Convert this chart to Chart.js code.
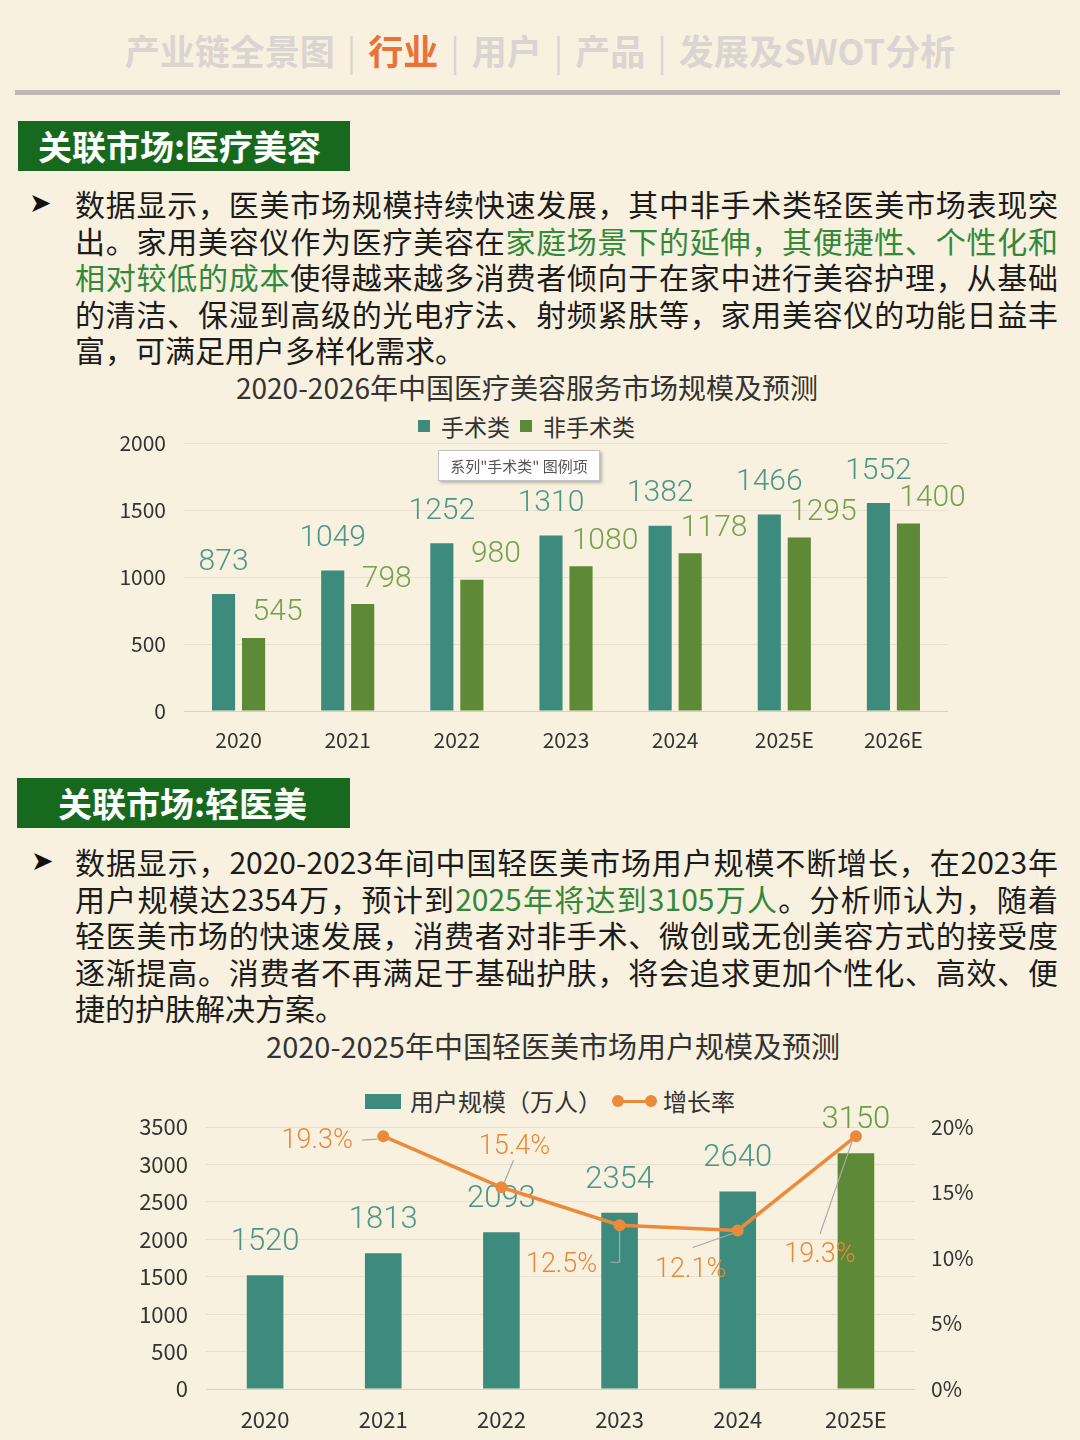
<!DOCTYPE html>
<html>
<head>
<meta charset="utf-8">
<script src="https://cdn.jsdelivr.net/npm/chart.js@4"></script>
<style>
body { margin: 0; background: #f8f1df; }
#page { position: relative; width: 1080px; height: 1440px; overflow: hidden; background: #f8f1df;
  font-family: "Noto Sans CJK SC", sans-serif; color: #1c1c1c; }
.abs { position: absolute; }
#nav { left: 0; top: 26px; width: 1080px; display: flex; justify-content: center; gap: 12px;
  font-size: 35px; font-weight: bold; color: #dcd4d0; line-height: 48px; white-space: nowrap; }
#nav .on { color: #ea7239; }
#nav i { font-style: normal; font-weight: normal; }
#rule { left: 15px; top: 90px; width: 1045px; height: 5px; background: #bcb8b2; }
.head { height: 50px; background: #17691d; color: #fff; font-size: 34px; font-weight: bold; line-height: 50px; white-space: nowrap; }
.arrow { font-family: "DejaVu Sans", sans-serif; font-size: 27px; color: #111; line-height: 36px; }
.para { left: 75px; width: 983px; font-size: 30px; line-height: 36.5px; }
.para div { white-space: nowrap; }
.para .j { text-align: justify; text-align-last: justify; }
.para g { color: #33883a; }
.ctitle { left: 0; font-size: 28px; color: #333; line-height: 36px; text-align: center; white-space: nowrap; }
.leg { font-size: 23px; color: #333; line-height: 28px; white-space: nowrap; }
.sq { width: 12px; height: 12px; }
#tip { left: 438px; top: 450px; width: 160px; height: 29px; background: #fff; border: 1px solid #c4c4c4;
  box-shadow: 2px 2px 3px rgba(0,0,0,0.25); font-size: 15px; color: #555; line-height: 29px; text-align: center; }
canvas { position: absolute; }
</style>
</head>
<body>
<div id="page">
  <div id="nav" class="abs"><span>产业链全景图</span><i>|</i><span class="on">行业</span><i>|</i><span>用户</span><i>|</i><span>产品</span><i>|</i><span>发展及SWOT分析</span></div>
  <div id="rule" class="abs"></div>

  <div class="abs head" style="left:18px;top:121px;width:312px;padding-left:20px;">关联市场:医疗美容</div>
  <div class="abs arrow" style="left:29px;top:185px;">➤</div>
  <div class="abs para" style="top:185px;">
    <div class="j">数据显示，医美市场规模持续快速发展，其中非手术类轻医美市场表现突</div>
    <div class="j">出。家用美容仪作为医疗美容在<g>家庭场景下的延伸，其便捷性、个性化和</g></div>
    <div class="j"><g>相对较低的成本</g>使得越来越多消费者倾向于在家中进行美容护理，从基础</div>
    <div class="j">的清洁、保湿到高级的光电疗法、射频紧肤等，家用美容仪的功能日益丰</div>
    <div>富，可满足用户多样化需求。</div>
  </div>

  <div class="abs ctitle" style="top:369px;width:1054px;">2020-2026年中国医疗美容服务市场规模及预测</div>
  <div class="abs sq" style="left:418px;top:420px;background:#3d8b7d;"></div>
  <div class="abs leg" style="left:441px;top:412px;">手术类</div>
  <div class="abs sq" style="left:520px;top:420px;background:#5e8a38;"></div>
  <div class="abs leg" style="left:543px;top:412px;">非手术类</div>
  <canvas id="c1" width="900" height="350" style="left:100px;top:420px;"></canvas>
  <div id="tip" class="abs">系列"手术类" 图例项</div>

  <div class="abs head" style="left:17px;top:778px;width:292px;padding-left:41px;">关联市场:轻医美</div>
  <div class="abs arrow" style="left:31px;top:843px;">➤</div>
  <div class="abs para" style="top:843px;">
    <div class="j">数据显示，2020-2023年间中国轻医美市场用户规模不断增长，在2023年</div>
    <div class="j">用户规模达2354万，预计到<g>2025年将达到3105万人</g>。分析师认为，随着</div>
    <div class="j">轻医美市场的快速发展，消费者对非手术、微创或无创美容方式的接受度</div>
    <div class="j">逐渐提高。消费者不再满足于基础护肤，将会追求更加个性化、高效、便</div>
    <div>捷的护肤解决方案。</div>
  </div>

  <div class="abs ctitle" style="top:1027px;width:1106px;font-size:29px;">2020-2025年中国轻医美市场用户规模及预测</div>
  <div class="abs" style="left:365px;top:1094px;width:36px;height:15px;background:#3d8b7d;"></div>
  <div class="abs leg" style="left:410px;top:1087px;font-size:24px;">用户规模（万人）</div>
  <div class="abs" style="left:613px;top:1100px;width:42px;height:3px;background:#ec8a3b;"></div>
  <div class="abs" style="left:612px;top:1095px;width:12px;height:12px;border-radius:6px;background:#ec8a3b;"></div>
  <div class="abs" style="left:645px;top:1095px;width:12px;height:12px;border-radius:6px;background:#ec8a3b;"></div>
  <div class="abs leg" style="left:663px;top:1087px;font-size:24px;">增长率</div>
  <canvas id="c2" width="890" height="335" style="left:110px;top:1105px;"></canvas>
</div>

<script>
// chart 1 data
const years1 = ['2020', '2021', '2022', '2023', '2024', '2025E', '2026E'];
const surgical = [873, 1049, 1252, 1310, 1382, 1466, 1552];
const nonSurgical = [545, 798, 980, 1080, 1178, 1295, 1400];

// chart 2 data
const years2 = ['2020', '2021', '2022', '2023', '2024', '2025E'];
const users = [1520, 1813, 2093, 2354, 2640, 3150];
const growth = [null, 19.3, 15.4, 12.5, 12.1, 19.3];

const TEAL = '#3d8b7d';
const GREEN = '#5e8a38';
const ORANGE = '#ec8a3b';
const tickFont = { family: '"Noto Sans CJK SC", sans-serif', size: 21 };
const gridColor = '#e8e1cf';

//Stop the y axis from adding its own padding above and below the plot
function fixY(width) {
    return (s) => {
        s.width = width;
        s.paddingTop = 0;
        s.paddingBottom = 0;
    };
}

//Value labels above the bars of chart 1
const barLabels1 = {
    id: 'barLabels1',
    afterDatasetsDraw(chart) {
        const ctx = chart.ctx;
        const colors = ['#4c9787', '#76a04a'];
        const dx = [0, 24];
        const dy = [32, 25];
        ctx.save();
        ctx.font = '300 30px Roboto, sans-serif';
        ctx.textAlign = 'center';
        ctx.textBaseline = 'middle';
        chart.data.datasets.forEach((ds, di) => {
            chart.getDatasetMeta(di).data.forEach((bar, i) => {
                ctx.fillStyle = colors[di];
                ctx.fillText(ds.data[i], bar.x + dx[di], bar.y - dy[di]);
            });
        });
        ctx.restore();
    }
};

new Chart(document.getElementById('c1'), {
    type: 'bar',
    data: {
        labels: years1,
        datasets: [
            { label: '手术类', data: surgical, backgroundColor: TEAL, categoryPercentage: 0.55, barPercentage: 0.77 },
            { label: '非手术类', data: nonSurgical, backgroundColor: GREEN, categoryPercentage: 0.55, barPercentage: 0.77 }
        ]
    },
    options: {
        responsive: false,
        animation: false,
        layout: { padding: { top: 23, right: 52, left: 0, bottom: 0 } },
        plugins: { legend: { display: false }, tooltip: { enabled: false } },
        scales: {
            x: {
                grid: { display: false, drawTicks: false },
                border: { display: false },
                ticks: { color: '#333', font: tickFont, padding: 16 },
                afterFit(s) { s.height = 59; }
            },
            y: {
                min: 0, max: 2000,
                ticks: { stepSize: 500, color: '#333', font: tickFont, padding: 18, callback: (v) => String(v) },
                grid: { color: (c) => c.tick.value === 0 ? '#d8d2c4' : gridColor, drawTicks: false },
                border: { display: false },
                afterFit: fixY(84)
            }
        }
    },
    plugins: [barLabels1]
});

//Labels for chart 2: user numbers under the line, growth rates with leader lines on top
const userLabels = {
    id: 'userLabels',
    afterDatasetDraw(chart, args) {
        if (args.index !== 0) return;
        const ctx = chart.ctx;
        ctx.save();
        ctx.font = '300 31px Roboto, sans-serif';
        ctx.textAlign = 'center';
        ctx.textBaseline = 'middle';
        args.meta.data.forEach((bar, i) => {
            ctx.fillStyle = i === users.length - 1 ? '#6c9c47' : '#4c9787';
            ctx.fillText(users[i], bar.x, bar.y - 33);
        });
        ctx.restore();
    }
};

const rateOffsets = [null, [-66, 5], [13, -40], [-58, 40], [-47, 40], [-36, 119]];
const leaderLines = [null,
    [[-6, 3], [-21, 4]],
    [[3, -5], [12, -27]],
    [[0, 6], [0, 37], [-9, 37]],
    [[-5, 3], [-45, 17]],
    [[-3, 3], [-36, 98]]
];
const rateLabels = {
    id: 'rateLabels',
    afterDatasetsDraw(chart) {
        const ctx = chart.ctx;
        const pts = chart.getDatasetMeta(1).data;
        ctx.save();
        ctx.strokeStyle = '#a9a9a9';
        ctx.lineWidth = 1.2;
        ctx.font = '300 27px Roboto, sans-serif';
        ctx.textAlign = 'center';
        ctx.textBaseline = 'middle';
        ctx.fillStyle = '#e8893a';
        growth.forEach((g, i) => {
            if (g === null) return;
            const p = pts[i];
            const seg = leaderLines[i];
            ctx.beginPath();
            seg.forEach((d, k) => k === 0 ? ctx.moveTo(p.x + d[0], p.y + d[1]) : ctx.lineTo(p.x + d[0], p.y + d[1]));
            ctx.stroke();
            ctx.fillText(g.toFixed(1) + '%', p.x + rateOffsets[i][0], p.y + rateOffsets[i][1]);
        });
        ctx.restore();
    }
};

new Chart(document.getElementById('c2'), {
    type: 'bar',
    data: {
        labels: years2,
        datasets: [
            {
                label: '用户规模（万人）', data: users, yAxisID: 'y', order: 1,
                backgroundColor: users.map((v, i) => i === users.length - 1 ? GREEN : TEAL),
                categoryPercentage: 1, barPercentage: 0.31
            },
            {
                type: 'line', label: '增长率', data: growth, yAxisID: 'y1', order: 0,
                borderColor: ORANGE, backgroundColor: ORANGE, borderWidth: 3.5,
                pointRadius: 6, pointBackgroundColor: ORANGE, pointBorderWidth: 0, tension: 0
            }
        ]
    },
    options: {
        responsive: false,
        animation: false,
        layout: { padding: { top: 22, right: 0, left: 0, bottom: 0 } },
        plugins: { legend: { display: false }, tooltip: { enabled: false } },
        scales: {
            x: {
                grid: { display: false, drawTicks: false },
                border: { display: false },
                ticks: { color: '#333', font: { ...tickFont, size: 22 }, padding: 17 },
                afterFit(s) { s.height = 51; }
            },
            y: {
                position: 'left', min: 0, max: 3500,
                ticks: { stepSize: 500, color: '#333', font: { ...tickFont, size: 22 }, padding: 18, callback: (v) => String(v) },
                grid: { color: (c) => c.tick.value === 0 ? '#d8d2c4' : gridColor, drawTicks: false },
                border: { display: false },
                afterFit: fixY(96)
            },
            y1: {
                position: 'right', min: 0, max: 20,
                ticks: { stepSize: 5, color: '#333', font: { ...tickFont, size: 21 }, padding: 16, callback: (v) => v + '%' },
                grid: { display: false, drawTicks: false },
                border: { display: false },
                afterFit: fixY(85)
            }
        }
    },
    plugins: [userLabels, rateLabels]
});
</script>
</body>
</html>
